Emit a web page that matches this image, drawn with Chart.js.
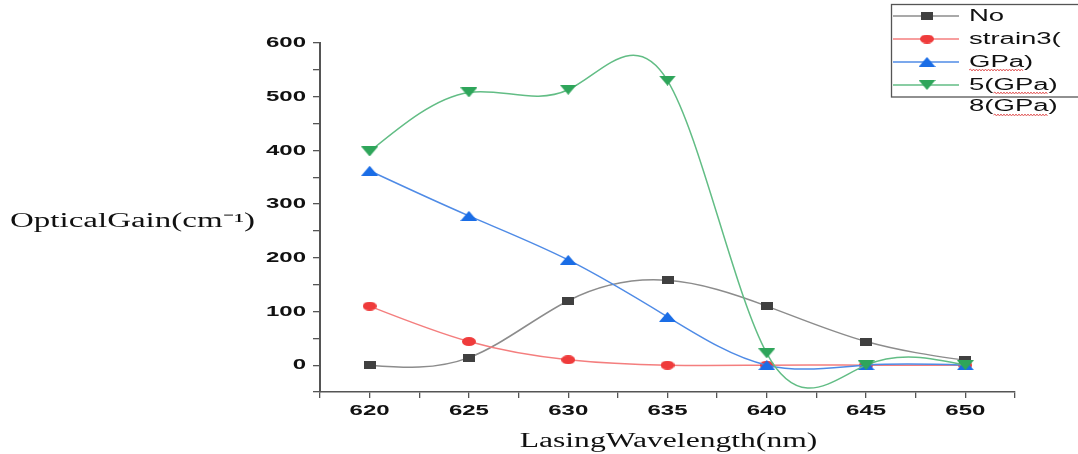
<!DOCTYPE html>
<html>
<head>
<meta charset="utf-8">
<script src="https://cdn.jsdelivr.net/npm/chart.js@4/dist/chart.umd.min.js"></script>
<style>
  html, body { margin: 0; padding: 0; background: #fff; }
  #gainChart { display: block; }
</style>
</head>
<body>
<canvas id="gainChart" width="1078" height="454"></canvas>
<script>
// data
const wavelengths = [620, 625, 630, 635, 640, 645, 650];
const gainNo = [0, 14, 120, 158, 110, 44, 9];
const gainStrain3 = [110, 44, 10, 0, 0, 0, 0];
const gainGPa = [362, 278, 196, 90, 0, 0, 0];
const gain5GPa = [398, 508, 513, 530, 22, 0, 0];
const legendExtra = '8(GPa)';

const xTitle = 'LasingWavelength(nm)';
const yTitle = 'OpticalGain(cm\u207B\u00B9)';

// the source image is stretched sideways; text and markers follow that
const TEXT_STRETCH = 1.6;
const FONT_SANS = "'Liberation Sans', Arial, sans-serif";
const FONT_SERIF = "'Liberation Serif', 'Times New Roman', serif";
const AXIS = '#555';

function toPoints(vals) {
  return vals.map((v, i) => ({ x: wavelengths[i], y: v }));
}

// wide marker sprites
function makeMarker(kind, color, w, h) {
  const c = document.createElement('canvas');
  c.width = w;
  c.height = h;
  const g = c.getContext('2d');
  g.fillStyle = color;
  g.beginPath();
  if (kind === 'rect') {
    g.rect(0, 0, w, h);
  } else if (kind === 'circle') {
    g.ellipse(w / 2, h / 2, w / 2, h / 2, 0, 0, Math.PI * 2);
  } else if (kind === 'up') {
    g.moveTo(w / 2, 0);
    g.lineTo(w, h);
    g.lineTo(0, h);
    g.closePath();
  } else {
    g.moveTo(0, 0);
    g.lineTo(w, 0);
    g.lineTo(w / 2, h);
    g.closePath();
  }
  g.fill();
  return c;
}

const series = [
  { label: 'No', data: gainNo, line: '#8c8c8c', marker: makeMarker('rect', '#404040', 12, 8), order: 3 },
  { label: 'strain3(', data: gainStrain3, line: '#f47e7e', marker: makeMarker('circle', '#ef3b3b', 14, 9), order: 2 },
  { label: 'GPa)', data: gainGPa, line: '#4f8be6', marker: makeMarker('up', '#1a6de6', 17, 10), order: 1 },
  { label: '5(GPa)', data: gain5GPa, line: '#62bd85', marker: makeMarker('down', '#2ea55a', 17, 10), order: 0 },
];

// slopes of a natural cubic spline (the source uses spline connectors)
function splineSlopes(xs, ys) {
  const n = xs.length;
  const h = [];
  for (let i = 0; i < n - 1; i++) h.push(xs[i + 1] - xs[i]);
  const M = new Array(n).fill(0);
  if (n > 2) {
    const a = [], b = [], c = [], d = [];
    for (let i = 1; i < n - 1; i++) {
      a.push(h[i - 1]);
      b.push(2 * (h[i - 1] + h[i]));
      c.push(h[i]);
      d.push(6 * ((ys[i + 1] - ys[i]) / h[i] - (ys[i] - ys[i - 1]) / h[i - 1]));
    }
    const m = b.length;
    for (let i = 1; i < m; i++) {
      const w = a[i] / b[i - 1];
      b[i] -= w * c[i - 1];
      d[i] -= w * d[i - 1];
    }
    const sol = new Array(m);
    sol[m - 1] = d[m - 1] / b[m - 1];
    for (let i = m - 2; i >= 0; i--) sol[i] = (d[i] - c[i] * sol[i + 1]) / b[i];
    for (let i = 0; i < m; i++) M[i + 1] = sol[i];
  }
  const slopes = [];
  for (let i = 0; i < n - 1; i++) {
    slopes.push((ys[i + 1] - ys[i]) / h[i] - h[i] * (2 * M[i] + M[i + 1]) / 6);
  }
  slopes.push((ys[n - 1] - ys[n - 2]) / h[n - 2] + h[n - 2] * (M[n - 2] + 2 * M[n - 1]) / 6);
  return slopes;
}

// replace the line's bezier control points with the spline's
const splineConnect = {
  id: 'splineConnect',
  beforeDatasetDraw(chart, args) {
    const meta = args.meta;
    const xs = chart.scales.x;
    const ys = chart.scales.y;
    const raw = chart.data.datasets[args.index].data;
    const xv = raw.map(p => p.x);
    const yv = raw.map(p => p.y);
    const slopes = splineSlopes(xv, yv);
    meta.dataset.updateControlPoints(chart.chartArea, 'x');
    meta.data.forEach((pt, i) => {
      if (i > 0) {
        const hb = (xv[i] - xv[i - 1]) / 3;
        pt.cp1x = xs.getPixelForValue(xv[i] - hb);
        pt.cp1y = ys.getPixelForValue(yv[i] - slopes[i] * hb);
      }
      if (i < xv.length - 1) {
        const hf = (xv[i + 1] - xv[i]) / 3;
        pt.cp2x = xs.getPixelForValue(xv[i] + hf);
        pt.cp2y = ys.getPixelForValue(yv[i] + slopes[i] * hf);
      }
    });
  },
};

function wideText(ctx, text, x, y, sx, align) {
  const w = ctx.measureText(text).width * sx;
  let left = x;
  if (align === 'center') left = x - w / 2;
  else if (align === 'right') left = x - w;
  ctx.save();
  ctx.translate(left, y);
  ctx.scale(sx, 1);
  ctx.textAlign = 'left';
  ctx.fillText(text, 0, 0);
  ctx.restore();
  return left;
}

function squiggle(ctx, x0, x1, y) {
  ctx.save();
  ctx.strokeStyle = '#e05050';
  ctx.lineWidth = 0.9;
  ctx.beginPath();
  ctx.moveTo(x0, y);
  let up = true;
  for (let x = x0 + 1.5; x <= x1; x += 1.5) {
    ctx.lineTo(x, y + (up ? -1 : 1));
    up = !up;
  }
  ctx.stroke();
  ctx.restore();
}

const decorations = {
  id: 'decorations',
  afterDraw(chart) {
    const ctx = chart.ctx;
    const area = chart.chartArea;
    const xs = chart.scales.x;
    const ys = chart.scales.y;

    ctx.save();
    ctx.fillStyle = '#111';

    // tick labels from the library's ticks, only on the major ones
    ctx.font = 'bold 15px ' + FONT_SANS;
    ctx.textBaseline = 'middle';
    ys.ticks.forEach(t => {
      if (t.value % 100 !== 0) return;
      wideText(ctx, String(t.value), 306, ys.getPixelForValue(t.value), TEXT_STRETCH, 'right');
    });
    xs.ticks.forEach(t => {
      if (Math.abs(t.value % 5) > 1e-6) return;
      wideText(ctx, String(t.value), xs.getPixelForValue(t.value), 411, TEXT_STRETCH, 'center');
    });

    // axis titles
    ctx.font = '20px ' + FONT_SERIF;
    ctx.textBaseline = 'alphabetic';
    wideText(ctx, yTitle, 10, 227, 1.65, 'left');
    wideText(ctx, xTitle, (area.left + area.right) / 2 + 1, 447, 1.58, 'center');
    ctx.restore();

    // legend box
    ctx.save();
    ctx.strokeStyle = '#555';
    ctx.lineWidth = 1.3;
    ctx.strokeRect(891.5, 4.5, 200, 92.5);
    const rows = [16, 39, 62, 85];
    ctx.font = '16px ' + FONT_SANS;
    ctx.textBaseline = 'middle';
    series.forEach((s, i) => {
      const y = rows[i];
      ctx.strokeStyle = s.line;
      ctx.lineWidth = 1.5;
      ctx.beginPath();
      ctx.moveTo(893, y);
      ctx.lineTo(959, y);
      ctx.stroke();
      ctx.drawImage(s.marker, 927 - s.marker.width / 2, y - s.marker.height / 2);
      ctx.fillStyle = '#111';
      wideText(ctx, s.label, 969, y + 1, 1.72, 'left');
    });
    wideText(ctx, legendExtra, 969, 107, 1.72, 'left');

    // spell-check underlines under "GPa"
    const under = [
      { text: 'GPa)', y: 70 },
      { text: '5(GPa)', y: 93 },
      { text: legendExtra, y: 115 },
    ];
    under.forEach(u => {
      const start = 969 + ctx.measureText(u.text.slice(0, u.text.indexOf('G'))).width * 1.72;
      const w = ctx.measureText('GPa').width * 1.72;
      squiggle(ctx, start, start + w, u.y);
    });
    ctx.restore();
  },
};

const ctx = document.getElementById('gainChart').getContext('2d');

new Chart(ctx, {
  type: 'line',
  data: {
    datasets: series.map(s => ({
      label: s.label,
      data: toPoints(s.data),
      borderColor: s.line,
      backgroundColor: s.line,
      borderWidth: 1.5,
      pointStyle: s.marker,
      pointRadius: 6,
      tension: 0.4,
      order: s.order,
      fill: false,
    })),
  },
  options: {
    responsive: false,
    devicePixelRatio: 1,
    animation: false,
    layout: { padding: { top: 43, right: 63, left: 0, bottom: 0 } },
    plugins: {
      legend: { display: false },
      tooltip: { enabled: false },
    },
    scales: {
      x: {
        type: 'linear',
        min: 617.5,
        max: 652.5,
        afterFit: s => { s.height = 62; },
        border: { display: true, color: AXIS, width: 1.5 },
        grid: { display: true, drawOnChartArea: false, drawTicks: true, tickLength: 6, color: AXIS, lineWidth: 1.3 },
        ticks: { stepSize: 2.5, autoSkip: false, maxRotation: 0, display: false },
      },
      y: {
        min: -50,
        max: 600,
        afterFit: s => { s.width = 320; },
        border: { display: true, color: AXIS, width: 2 },
        grid: { display: true, drawOnChartArea: false, drawTicks: true, tickLength: 7, color: AXIS, lineWidth: 1.3 },
        ticks: { stepSize: 50, autoSkip: false, display: false },
      },
    },
  },
  plugins: [splineConnect, decorations],
});
</script>
</body>
</html>
